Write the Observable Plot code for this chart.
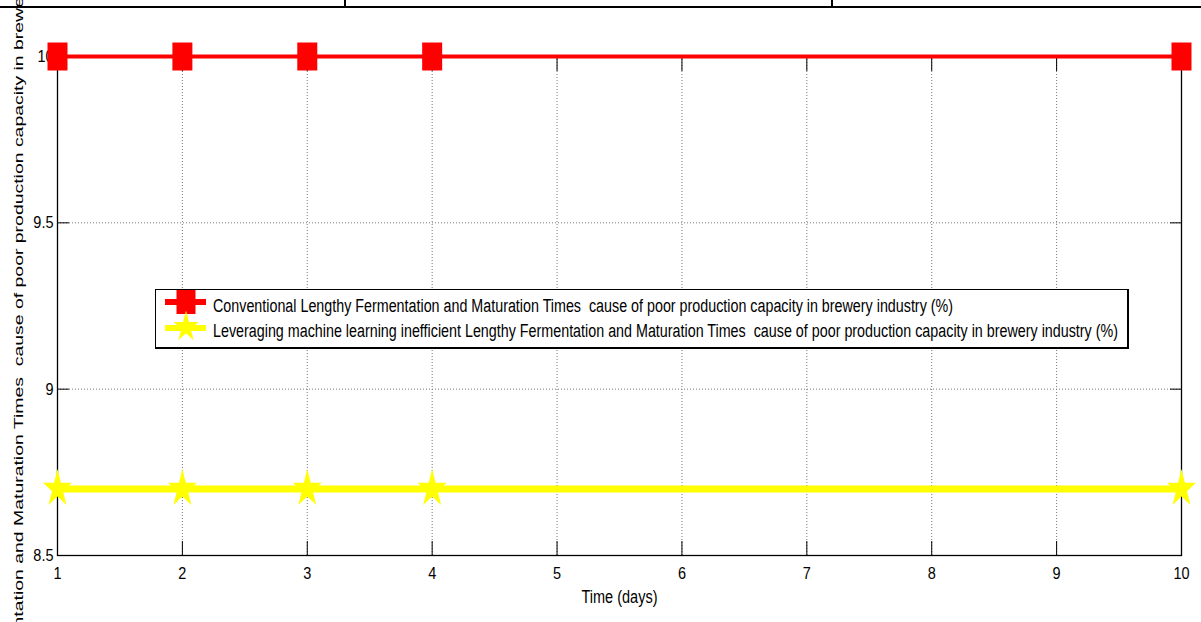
<!DOCTYPE html>
<html><head><meta charset="utf-8">
<script src="https://cdn.jsdelivr.net/npm/d3@7"></script>
<script src="https://cdn.jsdelivr.net/npm/@observablehq/plot@0.6"></script>
<style>
html,body{margin:0;padding:0;background:#fff;}
#wrap{position:relative;width:1201px;height:622px;overflow:hidden;}
#wrap svg text{white-space:pre;}
.hline{position:absolute;left:0;top:6px;width:1201px;height:2px;background:#000;}
.vline{position:absolute;top:0;width:2px;height:8px;background:#000;}
#legend{position:absolute;left:155px;top:289px;width:971px;height:57px;background:#fff;border-left:1px solid #000;border-top:1px solid #000;border-right:2px solid #000;border-bottom:2px solid #000;font-family:"Liberation Sans",Arial,sans-serif;font-size:13px;color:#000;}
#legend .row{position:absolute;left:57px;height:16px;line-height:16px;white-space:pre;transform-origin:0 50%;}
#legend svg{position:absolute;left:0;top:0;}
</style>
</head><body>
<div id="wrap"></div>
<script>
const days = [1, 2, 3, 4, 10];
const conventional = [10, 10, 10, 10, 10];
const leveraging = [8.7, 8.7, 8.7, 8.7, 8.7];
const xTicks = [1, 2, 3, 4, 5, 6, 7, 8, 9, 10];
const yTicks = [8.5, 9, 9.5, 10];
const seriesNames = [
  "Conventional Lengthy Fermentation and Maturation Times  cause of poor production capacity in brewery industry (%)",
  "Leveraging machine learning inefficient Lengthy Fermentation and Maturation Times  cause of poor production capacity in brewery industry (%)"
];
const seriesColors = ["#ff0000", "#ffff00"];
const xLabel = "Time (days)";
const yLabel = "Lengthy Fermentation and Maturation Times  cause of poor production capacity in brewery industry (%)";

const convData = days.map((d, i) => ({day: d, value: conventional[i]}));
const levData = days.map((d, i) => ({day: d, value: leveraging[i]}));

function rectSymbol(w, h) {
  return {draw(ctx) { ctx.rect(-w / 2, -h / 2, w, h); }};
}
function starSymbol(sx, sy) {
  return {draw(ctx) {
    for (let i = 0; i < 10; i++) {
      const a = -Math.PI / 2 + i * Math.PI / 5;
      const r = i % 2 === 0 ? 1 : 0.382;
      const px = Math.cos(a) * r * sx, py = Math.sin(a) * r * sy;
      if (i) ctx.lineTo(px, py); else ctx.moveTo(px, py);
    }
    ctx.closePath();
  }};
}

const sans = '"Liberation Sans",Arial,sans-serif';

const chart = Plot.plot({
  width: 1201, height: 622,
  marginLeft: 57, marginRight: 20, marginTop: 56, marginBottom: 67,
  style: {background: "#fff", fontFamily: sans, fontSize: "14.5px", color: "#000"},
  x: {domain: [1, 10]},
  y: {domain: [8.5, 10]},
  marks: [
    Plot.gridX(xTicks, {stroke: "#777", strokeOpacity: 1, strokeDasharray: "1,2"}),
    Plot.gridY(yTicks, {stroke: "#777", strokeOpacity: 1, strokeDasharray: "1,2"}),
    Plot.axisX(xTicks, {anchor: "bottom", tickSize: -14, tickPadding: 25, label: null, fontSize: 14.5, tickFormat: d => String(d)}),
    Plot.axisX(xTicks, {anchor: "top", tickSize: -14, tickFormat: () => "", label: null}),
    Plot.axisY(yTicks, {anchor: "left", tickSize: -12, tickPadding: 16, label: null, fontSize: 14.5, tickFormat: d => String(d)}),
    Plot.axisY(yTicks, {anchor: "right", tickSize: -12, tickFormat: () => "", label: null}),
    Plot.frame({stroke: "#000", strokeWidth: 1.3}),
    Plot.text([xLabel], {frameAnchor: "bottom", dy: 42, text: d => d, lineAnchor: "middle", fontSize: 14.5}),
    Plot.text([yLabel], {frameAnchor: "left", dx: -39, dy: 9, rotate: -90, text: d => d, textAnchor: "middle", lineAnchor: "middle", fontSize: 13.5}),
    Plot.line(levData, {x: "day", y: "value", stroke: seriesColors[1], strokeWidth: 7}),
    Plot.dot(levData, {x: "day", y: "value", symbol: starSymbol(15.2, 19.9), fill: seriesColors[1], stroke: "none"}),
    Plot.line(convData, {x: "day", y: "value", stroke: seriesColors[0], strokeWidth: 4}),
    Plot.dot(convData, {x: "day", y: "value", symbol: rectSymbol(20, 28), fill: seriesColors[0], stroke: "none"})
  ]
});

// give the texts the stretched look of the original rendering
function stretch(sel, sx, sy) {
  sel.each(function() {
    const t = d3.select(this);
    const x = t.attr("x"), y = t.attr("y");
    let tr = t.attr("transform") || "";
    if (x != null && !/em$/.test(x)) { tr += ` translate(${+x},0)`; t.attr("x", null); }
    if (y != null && !/em$/.test(y)) { tr += ` translate(0,${+y})`; t.attr("y", null); }
    t.attr("transform", tr + ` scale(${sx},${sy})`);
  });
}
const svg = d3.select(chart);
const byText = s => svg.selectAll("text").filter(function() { return this.textContent === s; });
stretch(svg.selectAll('g[aria-label="x-axis tick label"] text'), 1, 1.2);
stretch(svg.selectAll('g[aria-label="y-axis tick label"] text'), 1, 1.2);
stretch(byText(xLabel), 1, 1.25);
stretch(byText(yLabel), 1.44, 1);

const wrap = document.getElementById("wrap");
wrap.appendChild(chart);

// table border fragment above the figure
const hl = document.createElement("div"); hl.className = "hline"; wrap.appendChild(hl);
[344, 831].forEach(x => { const v = document.createElement("div"); v.className = "vline"; v.style.left = x + "px"; wrap.appendChild(v); });

// legend
const legend = document.createElement("div");
legend.id = "legend";
const sw = d3.create("svg").attr("width", 60).attr("height", 57);
const rowsY = [12, 38];
sw.append("line").attr("x1", 9).attr("x2", 50).attr("y1", rowsY[0]).attr("y2", rowsY[0]).attr("stroke", seriesColors[0]).attr("stroke-width", 6);
const p1 = d3.path(); rectSymbol(19, 24).draw(p1);
sw.append("path").attr("d", p1.toString()).attr("transform", `translate(30,${rowsY[0]})`).attr("fill", seriesColors[0]);
sw.append("line").attr("x1", 9).attr("x2", 50).attr("y1", rowsY[1]).attr("y2", rowsY[1]).attr("stroke", seriesColors[1]).attr("stroke-width", 6);
const p2 = d3.path(); starSymbol(13, 16.5).draw(p2);
sw.append("path").attr("d", p2.toString()).attr("transform", `translate(30,${rowsY[1] - 1})`).attr("fill", seriesColors[1]);
legend.appendChild(sw.node());
wrap.appendChild(legend);
const targetW = [740, 905];
seriesNames.forEach((name, i) => {
  const r = document.createElement("div");
  r.className = "row";
  r.style.top = (i === 0 ? 8 : 33) + "px";
  r.textContent = name;
  legend.appendChild(r);
  const w = r.getBoundingClientRect().width;
  r.style.transform = `scale(${targetW[i] / w}, 1.4)`;
});
</script>
</body></html>
